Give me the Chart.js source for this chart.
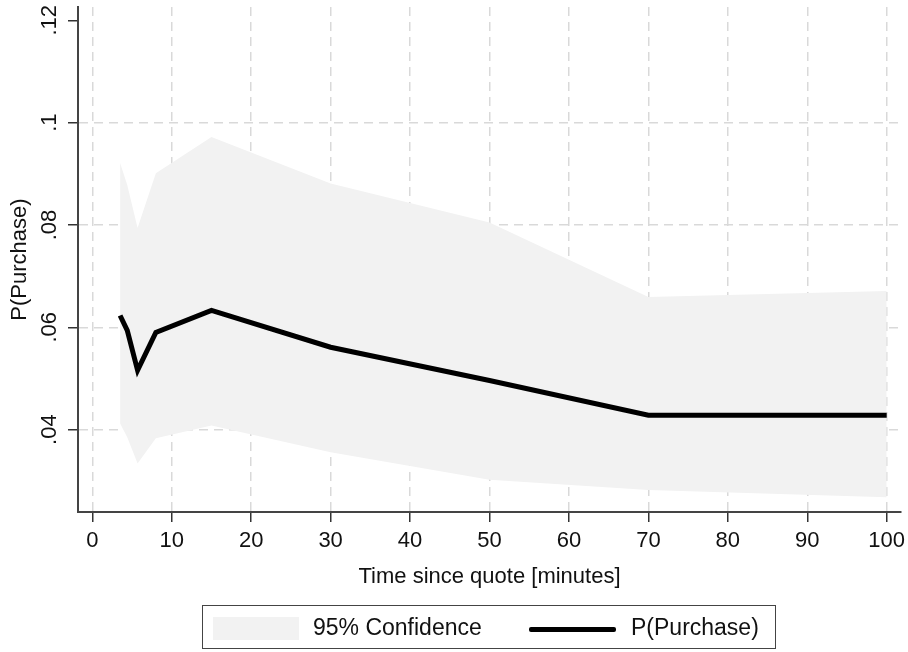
<!DOCTYPE html>
<html>
<head>
<meta charset="utf-8">
<script src="https://cdn.jsdelivr.net/npm/chart.js@4"></script>
<style>
  body { margin: 0; background: #fff; }
  #wrap { position: relative; width: 908px; height: 652px; }
  #purchaseChart { position: absolute; left: 0; top: 0; }
  #legend {
    position: absolute; left: 202px; top: 605px; width: 572px; height: 42px;
    border: 1.5px solid #444; font-family: "Liberation Sans", Arial, sans-serif;
    font-size: 23px; color: #111;
  }
  #legend .swatch { position: absolute; left: 10px; top: 11px; width: 86px; height: 23px; background: #f2f2f2; }
  #legend .line { position: absolute; left: 326px; top: 21px; width: 87px; height: 5px; background: #000; border-radius: 2px; }
  #legend .lbl { position: absolute; top: 8px; line-height: 26px; }
</style>
</head>
<body>
<div id="wrap">
  <canvas id="purchaseChart" width="908" height="652"></canvas>
  <div id="legend">
    <div class="swatch"></div><div class="lbl" style="left:110px">95% Confidence</div>
    <div class="line"></div><div class="lbl" style="left:428px">P(Purchase)</div>
  </div>
</div>
<script>
// Predicted purchase probability by time since quote, with 95% band
var minutes = [3.5, 4.4, 5.7, 8, 15, 30, 50, 70, 100];
var probPurchase = [0.0623, 0.0594, 0.0516, 0.0590, 0.0633, 0.0561, 0.0496, 0.0428, 0.0428];
var ciUpper = [0.0921, 0.0878, 0.0794, 0.0901, 0.0972, 0.0881, 0.0805, 0.0659, 0.0671];
var ciLower = [0.0412, 0.0385, 0.0334, 0.0383, 0.0408, 0.0356, 0.0302, 0.0282, 0.0268];

var xTicks = [0, 10, 20, 30, 40, 50, 60, 70, 80, 90, 100];
var yTicks = [0.04, 0.06, 0.08, 0.1, 0.12];

function toPoints(ys) {
    return minutes.map(function (m, i) { return { x: m, y: ys[i] }; });
}

var fontFamily = '"Liberation Sans", Arial, sans-serif';

var ctx = document.getElementById('purchaseChart').getContext('2d');
var purchaseChart = new Chart(ctx, {
    type: 'line',
    data: {
        datasets: [{
            label: 'P(Purchase)',
            data: toPoints(probPurchase),
            borderColor: '#000',
            borderWidth: 5,
            pointRadius: 0,
            fill: false
        }, {
            label: '95% upper',
            data: toPoints(ciUpper),
            borderWidth: 0,
            borderColor: 'rgba(0,0,0,0)',
            backgroundColor: '#f2f2f2',
            pointRadius: 0,
            fill: '+1'
        }, {
            label: '95% lower',
            data: toPoints(ciLower),
            borderWidth: 0,
            borderColor: 'rgba(0,0,0,0)',
            pointRadius: 0,
            fill: false
        }]
    },
    options: {
        responsive: false,
        animation: false,
        layout: { padding: { top: 7, right: 7, bottom: 52, left: 0 } },
        plugins: {
            legend: { display: false },
            tooltip: { enabled: false }
        },
        scales: {
            x: {
                type: 'linear',
                min: -1.8,
                max: 101.8,
                afterBuildTicks: function (s) { s.ticks = xTicks.map(function (v) { return { value: v }; }); },
                afterFit: function (s) {
                    s.height = 88;
                    s.paddingLeft = 0;
                    s.paddingRight = 0;
                },
                ticks: {
                    color: '#111',
                    padding: 6,
                    maxRotation: 0,
                    font: { family: fontFamily, size: 22 }
                },
                grid: {
                    color: '#d9d9d9',
                    lineWidth: 1.5,
                    tickLength: 10,
                    tickColor: '#333',
                    tickWidth: 1.5
                },
                border: { color: '#444', width: 2, dash: [9, 6] },
                title: {
                    display: true,
                    text: 'Time since quote [minutes]',
                    color: '#111',
                    font: { family: fontFamily, size: 22 },
                    padding: { top: 0, bottom: 10 }
                }
            },
            y: {
                min: 0.0239,
                max: 0.1226,
                afterBuildTicks: function (s) { s.ticks = yTicks.map(function (v) { return { value: v }; }); },
                afterFit: function (s) {
                    s.width = 78;
                    s.paddingTop = 0;
                    s.paddingBottom = 0;
                },
                ticks: {
                    color: '#111',
                    padding: 3,
                    minRotation: 90,
                    maxRotation: 90,
                    crossAlign: 'center',
                    font: { family: fontFamily, size: 22 },
                    callback: function (v) { return String(v).replace(/^0/, ''); }
                },
                grid: {
                    color: function (c) { return c.tick && c.tick.value === 0.12 ? 'rgba(0,0,0,0)' : '#d9d9d9'; },
                    lineWidth: 1.5,
                    tickLength: 10,
                    tickColor: '#333',
                    tickWidth: 1.5
                },
                border: { color: '#444', width: 2, dash: [9, 6] },
                title: {
                    display: true,
                    text: 'P(Purchase)',
                    color: '#111',
                    font: { family: fontFamily, size: 22 },
                    padding: { top: 7, bottom: 0 }
                }
            }
        }
    }
});
</script>
</body>
</html>
